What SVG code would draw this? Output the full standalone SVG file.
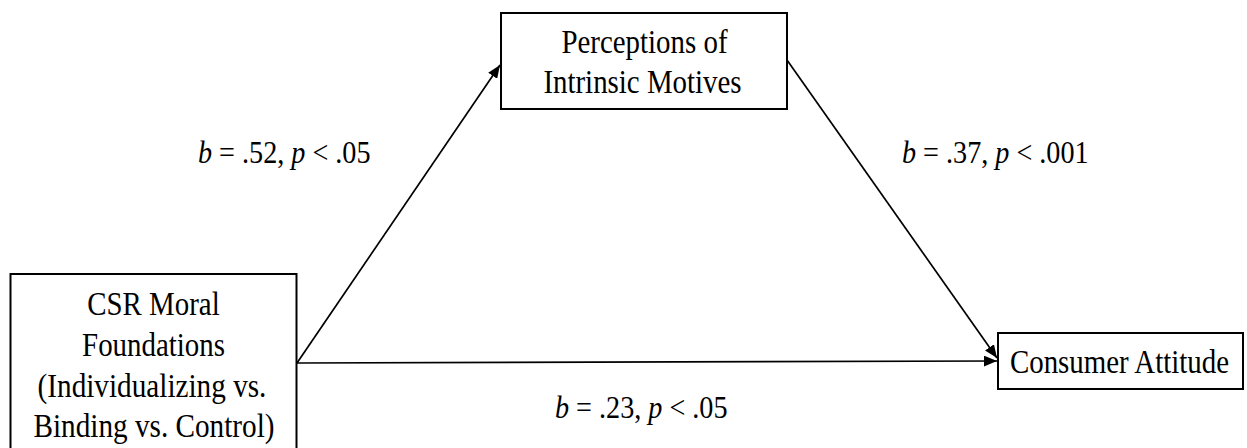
<svg xmlns="http://www.w3.org/2000/svg" width="1247" height="448" viewBox="0 0 1247 448">
<style>
.box{fill:#fff;stroke:#000;stroke-width:2}
.t{font-family:"Liberation Serif","Times New Roman",serif;font-size:34px;fill:#000;text-anchor:middle}
.lbl{font-family:"Liberation Serif","Times New Roman",serif;font-size:32px;fill:#000}
.i{font-style:italic}
.conn{stroke:#000;stroke-width:1.7;fill:none}
</style>
<defs>
<marker id="arr" viewBox="0 0 12 10" refX="12" refY="5" markerWidth="13" markerHeight="11" orient="auto" markerUnits="userSpaceOnUse">
<path d="M0,0 L12,5 L0,10 z" fill="#000"/>
</marker>
</defs>
<g id="connectors">
<line class="conn" x1="297" y1="363" x2="500" y2="65" marker-end="url(#arr)"/>
<line class="conn" x1="787" y1="60" x2="997" y2="358" marker-end="url(#arr)"/>
<line class="conn" x1="297" y1="363" x2="997" y2="361" marker-end="url(#arr)"/>
</g>
<g id="node-csr">
<rect class="box" x="10.5" y="274" width="286" height="185"/>
<text class="t" transform="translate(153.5,315) scale(0.85,1)">CSR Moral</text>
<text class="t" transform="translate(153.5,356) scale(0.85,1)">Foundations</text>
<text class="t" transform="translate(152,397) scale(0.86,1)">(Individualizing vs.</text>
<text class="t" transform="translate(154,437) scale(0.86,1)">Binding vs. Control)</text>
</g>
<g id="node-perceptions">
<rect class="box" x="501" y="13" width="286" height="96"/>
<text class="t" transform="translate(644.5,53) scale(0.85,1)">Perceptions of</text>
<text class="t" transform="translate(642.5,93) scale(0.85,1)">Intrinsic Motives</text>
</g>
<g id="node-attitude">
<rect class="box" x="998" y="333" width="245" height="56"/>
<text class="t" transform="translate(1119.5,373) scale(0.85,1)">Consumer Attitude</text>
</g>
<g id="labels">
<text class="lbl" transform="translate(198,163) scale(0.88,1)"><tspan class="i">b</tspan> = .52, <tspan class="i">p</tspan> &lt; .05</text>
<text class="lbl" transform="translate(902,163) scale(0.88,1)"><tspan class="i">b</tspan> = .37, <tspan class="i">p</tspan> &lt; .001</text>
<text class="lbl" transform="translate(555,418) scale(0.88,1)"><tspan class="i">b</tspan> = .23, <tspan class="i">p</tspan> &lt; .05</text>
</g>
</svg>
